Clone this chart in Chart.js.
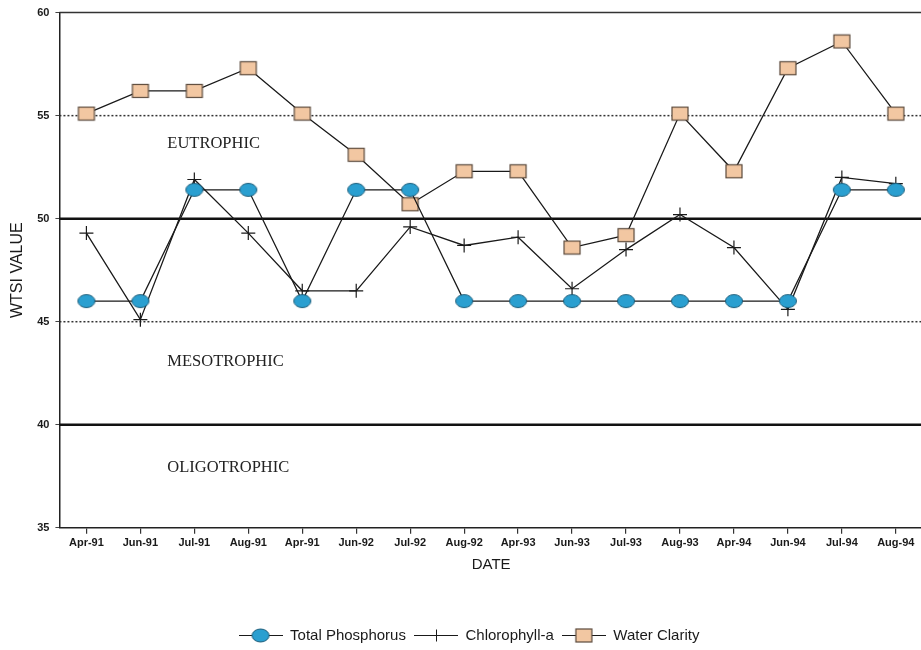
<!DOCTYPE html>
<html>
<head>
<meta charset="utf-8">
<title>WTSI Values</title>
<script src="https://cdn.jsdelivr.net/npm/chart.js@4.4.0/dist/chart.umd.min.js"></script>
<style>
  html, body { margin: 0; padding: 0; background: #fff; overflow: hidden; }
  #wrap { width: 931px; height: 650px; }
</style>
</head>
<body>
<div id="wrap"><canvas id="wtsi"></canvas></div>
<script>
// ===== Data =====
const dates = ['Apr-91', 'Jun-91', 'Jul-91', 'Aug-91', 'Apr-91', 'Jun-92', 'Jul-92', 'Aug-92',
               'Apr-93', 'Jun-93', 'Jul-93', 'Aug-93', 'Apr-94', 'Jun-94', 'Jul-94', 'Aug-94'];
const totalPhosphorus = [46.0, 46.0, 51.4, 51.4, 46.0, 51.4, 51.4, 46.0, 46.0, 46.0, 46.0, 46.0, 46.0, 46.0, 51.4, 51.4];
const chlorophyllA    = [49.3, 45.1, 51.9, 49.3, 46.5, 46.5, 49.6, 48.7, 49.1, 46.6, 48.5, 50.2, 48.6, 45.6, 52.0, 51.7];
const waterClarity    = [55.1, 56.2, 56.2, 57.3, 55.1, 53.1, 50.7, 52.3, 52.3, 48.6, 49.2, 55.1, 52.3, 57.3, 58.6, 55.1];
const yTicks = [35, 40, 45, 50, 55, 60];

// trophic state boundaries and zone names
const dottedLevels = [55, 45];
const solidLevels = [50, 40];
const zoneNames = ['EUTROPHIC', 'MESOTROPHIC', 'OLIGOTROPHIC'];
const zoneNameLevels = [53.65, 43.05, 37.9];

const SANS = '"Liberation Sans", Arial, sans-serif';
const SERIF = '"Liberation Serif", "Times New Roman", serif';
const INK = '#1a1a1a';
const TP_FILL = '#2a9fd0';
const TP_EDGE = '#1c5d7a';
const WC_FILL = '#f2c7a2';
const WC_EDGE = '#5b4a3c';

// ===== Marker images =====
function makeCanvas(w, h, draw) {
  const c = document.createElement('canvas');
  c.width = w;
  c.height = h;
  draw(c.getContext('2d'), w, h);
  return c;
}

function ellipseAt(ctx, cx, cy) {
  ctx.beginPath();
  ctx.ellipse(cx, cy, 8.5, 6.5, 0, 0, Math.PI * 2);
  ctx.fillStyle = TP_FILL;
  ctx.fill();
  ctx.lineWidth = 1;
  ctx.strokeStyle = TP_EDGE;
  ctx.stroke();
}

function squareAt(ctx, cx, cy) {
  ctx.fillStyle = WC_FILL;
  ctx.fillRect(cx - 8, cy - 6.5, 16, 13);
  ctx.lineWidth = 1.2;
  ctx.strokeStyle = WC_EDGE;
  ctx.strokeRect(cx - 8, cy - 6.5, 16, 13);
}

const tpPoint = makeCanvas(20, 16, (ctx) => ellipseAt(ctx, 10, 8));
const wcPoint = makeCanvas(20, 16, (ctx) => squareAt(ctx, 10, 8));

// legend swatches: short line with the marker in the middle
function legendSwatch(drawMarker) {
  return makeCanvas(44, 17, (ctx, w) => {
    const cy = 8.5;
    ctx.strokeStyle = INK;
    ctx.lineWidth = 1;
    ctx.beginPath();
    ctx.moveTo(0, cy);
    ctx.lineTo(w, cy);
    ctx.stroke();
    drawMarker(ctx, w / 2, cy);
  });
}

const tpLegend = legendSwatch(ellipseAt);
const chlLegend = legendSwatch((ctx, cx, cy) => {
  ctx.beginPath();
  ctx.moveTo(cx + 0.5, cy - 6);
  ctx.lineTo(cx + 0.5, cy + 6);
  ctx.stroke();
});
const wcLegend = legendSwatch(squareAt);

// ===== Zone lines and labels =====
const zonePlugin = {
  id: 'zones',
  beforeDatasetsDraw(chart) {
    const { ctx, chartArea: a, scales: { x, y } } = chart;
    ctx.save();

    // top frame
    ctx.strokeStyle = '#333';
    ctx.lineWidth = 1.5;
    ctx.beginPath();
    ctx.moveTo(a.left, y.getPixelForValue(60));
    ctx.lineTo(a.right, y.getPixelForValue(60));
    ctx.stroke();

    ctx.setLineDash([2, 2]);
    ctx.lineWidth = 1.5;
    ctx.strokeStyle = '#333';
    dottedLevels.forEach(v => {
      const py = y.getPixelForValue(v);
      ctx.beginPath();
      ctx.moveTo(a.left, py);
      ctx.lineTo(a.right, py);
      ctx.stroke();
    });

    ctx.setLineDash([]);
    ctx.lineWidth = 2.6;
    ctx.strokeStyle = '#111';
    solidLevels.forEach(v => {
      const py = y.getPixelForValue(v);
      ctx.beginPath();
      ctx.moveTo(a.left, py);
      ctx.lineTo(a.right, py);
      ctx.stroke();
    });

    ctx.font = '16.5px ' + SERIF;
    ctx.fillStyle = '#222';
    ctx.textAlign = 'left';
    ctx.textBaseline = 'middle';
    const tx = x.getPixelForValue(1.5);
    zoneNames.forEach((name, i) => {
      ctx.fillText(name, tx, y.getPixelForValue(zoneNameLevels[i]));
    });

    ctx.restore();
  }
};

// ===== Chart =====
const lineDefaults = {
  borderColor: INK,
  borderWidth: 1.3,
  tension: 0,
  fill: false
};

new Chart(document.getElementById('wtsi'), {
  type: 'line',
  data: {
    labels: dates,
    datasets: [
      { ...lineDefaults, label: 'Total Phosphorus', data: totalPhosphorus,
        pointStyle: tpPoint, legendStyle: tpLegend },
      { ...lineDefaults, label: 'Chlorophyll-a', data: chlorophyllA,
        pointStyle: 'cross', pointRadius: 7, pointBorderColor: INK, pointBorderWidth: 1.2,
        legendStyle: chlLegend },
      { ...lineDefaults, label: 'Water Clarity', data: waterClarity,
        pointStyle: wcPoint, legendStyle: wcLegend }
    ]
  },
  options: {
    responsive: true,
    maintainAspectRatio: false,
    animation: false,
    layout: { padding: { left: 8, top: 9, right: 1, bottom: -3 } },
    plugins: {
      tooltip: { enabled: false },
      legend: {
        position: 'bottom',
        labels: {
          usePointStyle: true,
          pointStyleWidth: 44,
          padding: 8,
          color: INK,
          font: { size: 15, family: SANS },
          generateLabels: (chart) => chart.data.datasets.map((ds, i) => ({
            text: ds.label,
            pointStyle: ds.legendStyle,
            datasetIndex: i,
            fontColor: INK,
            lineWidth: 0,
            hidden: false
          }))
        }
      }
    },
    scales: {
      x: {
        offset: true,
        grid: { drawOnChartArea: false, offset: false, tickLength: 6, color: '#333', lineWidth: 1.2 },
        border: { color: '#222', width: 1.5 },
        ticks: {
          autoSkip: false, maxRotation: 0, padding: 3, color: INK,
          font: { size: 11, weight: 'bold', family: SANS }
        },
        title: {
          display: true, text: 'DATE', color: INK,
          font: { size: 15, family: SANS },
          padding: { top: 3, bottom: 46 }
        }
      },
      y: {
        min: 35,
        max: 60,
        afterBuildTicks: (scale) => { scale.ticks = yTicks.map(v => ({ value: v })); },
        grid: { drawOnChartArea: false, tickLength: 4, color: '#444' },
        border: { color: '#222', width: 1.5 },
        ticks: {
          padding: 6, color: INK,
          font: { size: 11, weight: 'bold', family: SANS }
        },
        title: {
          display: true, text: 'WTSI VALUE', color: INK,
          font: { size: 16, family: SANS },
          padding: { top: 0, bottom: 4 }
        }
      }
    }
  },
  plugins: [zonePlugin]
});
</script>
</body>
</html>
